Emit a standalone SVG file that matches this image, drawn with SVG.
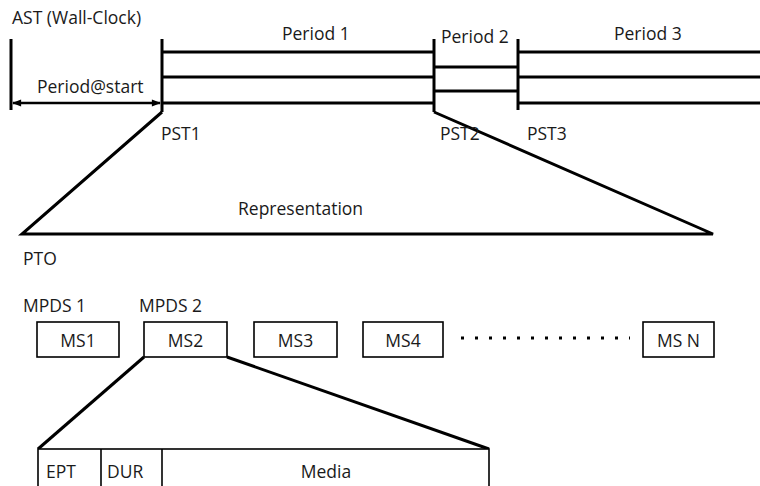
<svg xmlns="http://www.w3.org/2000/svg" width="760" height="486" viewBox="0 0 760 486">
<defs>
<marker id="arr" viewBox="0 0 10 10" refX="9" refY="5" markerWidth="10" markerHeight="9" orient="auto-start-reverse" markerUnits="userSpaceOnUse">
<path d="M0,1 L10,5 L0,9 z" fill="#000"/>
</marker>
<style>
text{font-family:"Open Sans","Liberation Sans",sans-serif;font-size:17.5px;fill:#1a1a1a}
.thick{stroke:#000;stroke-width:3;fill:none}
.box{stroke:#000;stroke-width:1.6;fill:#fff}
.mid{text-anchor:middle}
</style>
</defs>
<rect width="760" height="486" fill="#fff"/>
<g id="connectors">
<line class="thick" x1="11" y1="39" x2="11" y2="110"/>
<line class="thick" x1="162" y1="39" x2="162" y2="112"/>
<line class="thick" x1="434" y1="39" x2="434" y2="112"/>
<line class="thick" x1="518" y1="39" x2="518" y2="110"/>
<line class="thick" x1="162" y1="52" x2="434" y2="52"/>
<line class="thick" x1="162" y1="77" x2="434" y2="77"/>
<line class="thick" x1="162" y1="103" x2="434" y2="103"/>
<line class="thick" x1="434" y1="67" x2="518" y2="67"/>
<line class="thick" x1="434" y1="91" x2="518" y2="91"/>
<line class="thick" x1="518" y1="52" x2="760" y2="52"/>
<line class="thick" x1="518" y1="77" x2="760" y2="77"/>
<line class="thick" x1="518" y1="103" x2="760" y2="103"/>
<line stroke="#000" stroke-width="2.5" x1="13" y1="103" x2="160" y2="103" marker-start="url(#arr)" marker-end="url(#arr)"/>
<polyline class="thick" points="162,112 22,234 713,234 434,112"/>
<line stroke="#000" stroke-width="3" stroke-dasharray="3 11" x1="461" y1="338" x2="630" y2="338"/>
<line class="thick" x1="144" y1="357" x2="38" y2="449"/>
<line class="thick" x1="227" y1="357" x2="489" y2="449"/>
</g>
<g id="labels">
<text x="12" y="24">AST (Wall-Clock)</text>
<text x="37" y="93">Period@start</text>
<text x="282" y="40">Period 1</text>
<text x="441" y="43">Period 2</text>
<text x="614" y="40">Period 3</text>
<text x="161" y="140">PST1</text>
<text x="440" y="140">PST2</text>
<text x="527" y="140">PST3</text>
<text x="238" y="215">Representation</text>
<text x="23" y="265">PTO</text>
<text x="23" y="312">MPDS 1</text>
<text x="139" y="312">MPDS 2</text>
</g>
<g id="ms1"><rect class="box" x="37" y="322" width="82" height="35"/><text class="mid" x="78" y="347">MS1</text></g>
<g id="ms2"><rect class="box" x="144" y="322" width="83" height="35"/><text class="mid" x="185.5" y="347">MS2</text></g>
<g id="ms3"><rect class="box" x="254" y="322" width="83" height="35"/><text class="mid" x="295.5" y="347">MS3</text></g>
<g id="ms4"><rect class="box" x="363" y="322" width="80" height="35"/><text class="mid" x="403" y="347">MS4</text></g>
<g id="msn"><rect class="box" x="643" y="322" width="71" height="35"/><text class="mid" x="678.5" y="347">MS N</text></g>
<g id="segment">
<rect class="box" x="38" y="449" width="451" height="45"/>
<line stroke="#000" stroke-width="1.6" x1="101" y1="449" x2="101" y2="486"/>
<line stroke="#000" stroke-width="1.6" x1="162" y1="449" x2="162" y2="486"/>
<text x="46" y="478">EPT</text>
<text x="107" y="478">DUR</text>
<text class="mid" x="326" y="478">Media</text>
</g>
</svg>
